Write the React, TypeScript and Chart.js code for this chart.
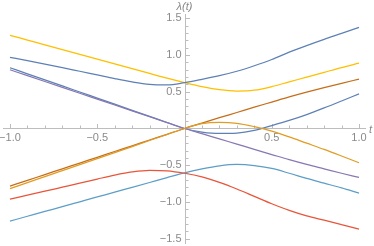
import React, { useEffect, useRef } from "react";
import { Chart, registerables } from "chart.js";

Chart.register(...registerables);

// t samples
const tValues = [-1, -0.9, -0.8, -0.7, -0.6, -0.5, -0.4, -0.3, -0.2, -0.1, 0, 0.1, 0.2, 0.3, 0.4, 0.5, 0.6, 0.7, 0.8, 0.9, 1];

// eigenvalue branches λ(t)
const blueUpper = [0.97, 0.925, 0.878, 0.83, 0.78, 0.73, 0.68, 0.635, 0.602, 0.595, 0.625, 0.67, 0.72, 0.78, 0.855, 0.94, 1.04, 1.13, 1.215, 1.295, 1.377];
const yellow = [1.27, 1.205, 1.14, 1.075, 1.01, 0.945, 0.88, 0.815, 0.75, 0.685, 0.625, 0.57, 0.528, 0.51, 0.522, 0.57, 0.635, 0.7, 0.765, 0.83, 0.89];
const blueLower = [0.828, 0.745, 0.662, 0.58, 0.497, 0.414, 0.331, 0.248, 0.165, 0.082, 0, -0.048, -0.068, -0.062, -0.025, 0.04, 0.11, 0.19, 0.28, 0.375, 0.472];
const purple = [0.8, 0.72, 0.64, 0.56, 0.48, 0.4, 0.32, 0.24, 0.16, 0.08, 0, -0.07, -0.142, -0.213, -0.285, -0.355, -0.425, -0.49, -0.55, -0.61, -0.667];
const darkOrange = [-0.785, -0.707, -0.628, -0.55, -0.471, -0.393, -0.314, -0.236, -0.157, -0.079, 0, 0.074, 0.147, 0.218, 0.29, 0.36, 0.43, 0.495, 0.556, 0.615, 0.673];
const orange = [-0.82, -0.738, -0.656, -0.574, -0.492, -0.41, -0.328, -0.246, -0.164, -0.082, 0, 0.065, 0.083, 0.07, 0.025, -0.035, -0.115, -0.2, -0.285, -0.375, -0.467];
const red = [-0.962, -0.909, -0.855, -0.8, -0.745, -0.689, -0.635, -0.592, -0.57, -0.577, -0.61, -0.66, -0.735, -0.825, -0.925, -1.025, -1.115, -1.19, -1.25, -1.31, -1.37];
const lightBlue = [-1.262, -1.196, -1.13, -1.065, -0.999, -0.933, -0.868, -0.802, -0.736, -0.67, -0.605, -0.55, -0.508, -0.49, -0.505, -0.545, -0.61, -0.68, -0.745, -0.81, -0.88];

const xTickValues = [-1, -0.5, 0.5, 1];
const yTickValues = [-1.5, -1, -0.5, 0.5, 1, 1.5];
const xMinorTicks = [-1, -0.9, -0.8, -0.7, -0.6, -0.5, -0.4, -0.3, -0.2, -0.1, 0.1, 0.2, 0.3, 0.4, 0.5, 0.6, 0.7, 0.8, 0.9, 1];
const yMinorTicks = [-1.5, -1.4, -1.3, -1.2, -1.1, -1, -0.9, -0.8, -0.7, -0.6, -0.5, -0.4, -0.3, -0.2, -0.1, 0.1, 0.2, 0.3, 0.4, 0.5, 0.6, 0.7, 0.8, 0.9, 1, 1.1, 1.2, 1.3, 1.4, 1.5];

const AXIS_COLOR = "#bdbdbd";
const LABEL_COLOR = "#8a8a8a";
const FONT = "'Liberation Sans', sans-serif";

const fmt = (v: number) => (v < 0 ? "\u2212" : "") + Math.abs(v).toFixed(1);

const axisPlugin = {
  id: "axisDecor",
  beforeDatasetsDraw(chart: any) {
    const { ctx, chartArea, scales } = chart;
    const xs = scales.x;
    const ys = scales.y;
    const x0 = xs.getPixelForValue(0);
    const y0 = ys.getPixelForValue(0);
    ctx.save();
    ctx.strokeStyle = AXIS_COLOR;
    ctx.lineWidth = 1;
    ctx.beginPath();
    ctx.moveTo(chartArea.left, Math.round(y0) + 0.5);
    ctx.lineTo(chartArea.right, Math.round(y0) + 0.5);
    ctx.moveTo(Math.round(x0) + 0.5, chartArea.top);
    ctx.lineTo(Math.round(x0) + 0.5, chartArea.bottom);
    // x ticks (upward)
    xMinorTicks.forEach((v) => {
      const px = Math.round(xs.getPixelForValue(v)) + 0.5;
      const major = xTickValues.some((m) => Math.abs(m - v) < 1e-6);
      const len = major ? 4 : 2.5;
      ctx.moveTo(px, Math.round(y0));
      ctx.lineTo(px, Math.round(y0) - len);
    });
    // y ticks (rightward)
    yMinorTicks.forEach((v) => {
      const py = Math.round(ys.getPixelForValue(v)) + 0.5;
      const major = yTickValues.some((m) => Math.abs(m - v) < 1e-6);
      const len = major ? 4 : 2.5;
      ctx.moveTo(Math.round(x0) + 1, py);
      ctx.lineTo(Math.round(x0) + 1 + len, py);
    });
    ctx.stroke();

    ctx.fillStyle = LABEL_COLOR;
    ctx.font = `11px ${FONT}`;
    ctx.textBaseline = "middle";
    // x tick labels
    ctx.textAlign = "center";
    xTickValues.forEach((v) => {
      ctx.fillText(fmt(v), xs.getPixelForValue(v), y0 + 9);
    });
    // y tick labels
    ctx.textAlign = "right";
    yTickValues.forEach((v) => {
      ctx.fillText(fmt(v), x0 - 3, ys.getPixelForValue(v));
    });
    // axis titles
    ctx.font = `italic 11px ${FONT}`;
    ctx.textAlign = "center";
    ctx.fillText("\u03bb(t)", x0, chartArea.top - 7);
    ctx.textAlign = "left";
    ctx.fillText("t", chartArea.right + 3, y0 + 1);
    ctx.restore();
  },
};

export default function App() {
  const canvasRef = useRef<HTMLCanvasElement | null>(null);

  useEffect(() => {
    if (!canvasRef.current) return;
    const series = [
      { data: blueUpper, color: "#5E81B5" },
      { data: orange, color: "#E19C24" },
      { data: red, color: "#E8553A" },
      { data: purple, color: "#8778B3" },
      { data: darkOrange, color: "#C56E1A" },
      { data: lightBlue, color: "#5D9EC7" },
      { data: yellow, color: "#FFBF00" },
      { data: blueLower, color: "#5E81B5" },
    ];
    const chart = new Chart(canvasRef.current, {
      type: "line",
      data: {
        datasets: series.map((s) => ({
          data: tValues.map((t, i) => ({ x: t, y: s.data[i] })),
          borderColor: s.color,
          borderWidth: 1.25,
          pointRadius: 0,
          fill: false,
          cubicInterpolationMode: "monotone" as const,
        })),
      },
      options: {
        animation: false,
        responsive: false,
        maintainAspectRatio: false,
        layout: { padding: { left: 3, right: 8, top: 14, bottom: 2 } },
        plugins: { legend: { display: false }, tooltip: { enabled: false } },
        scales: {
          x: {
            type: "linear",
            min: -1.04,
            max: 1.04,
            display: false,
          },
          y: {
            type: "linear",
            min: -1.574,
            max: 1.56,
            display: false,
          },
        },
      },
      plugins: [axisPlugin],
    });
    return () => chart.destroy();
  }, []);

  return (
    <div style={{ position: "fixed", left: 0, top: 0, width: 374, height: 246, background: "#fff" }}>
      <canvas ref={canvasRef} width={374} height={246} style={{ width: 374, height: 246 }} />
    </div>
  );
}
